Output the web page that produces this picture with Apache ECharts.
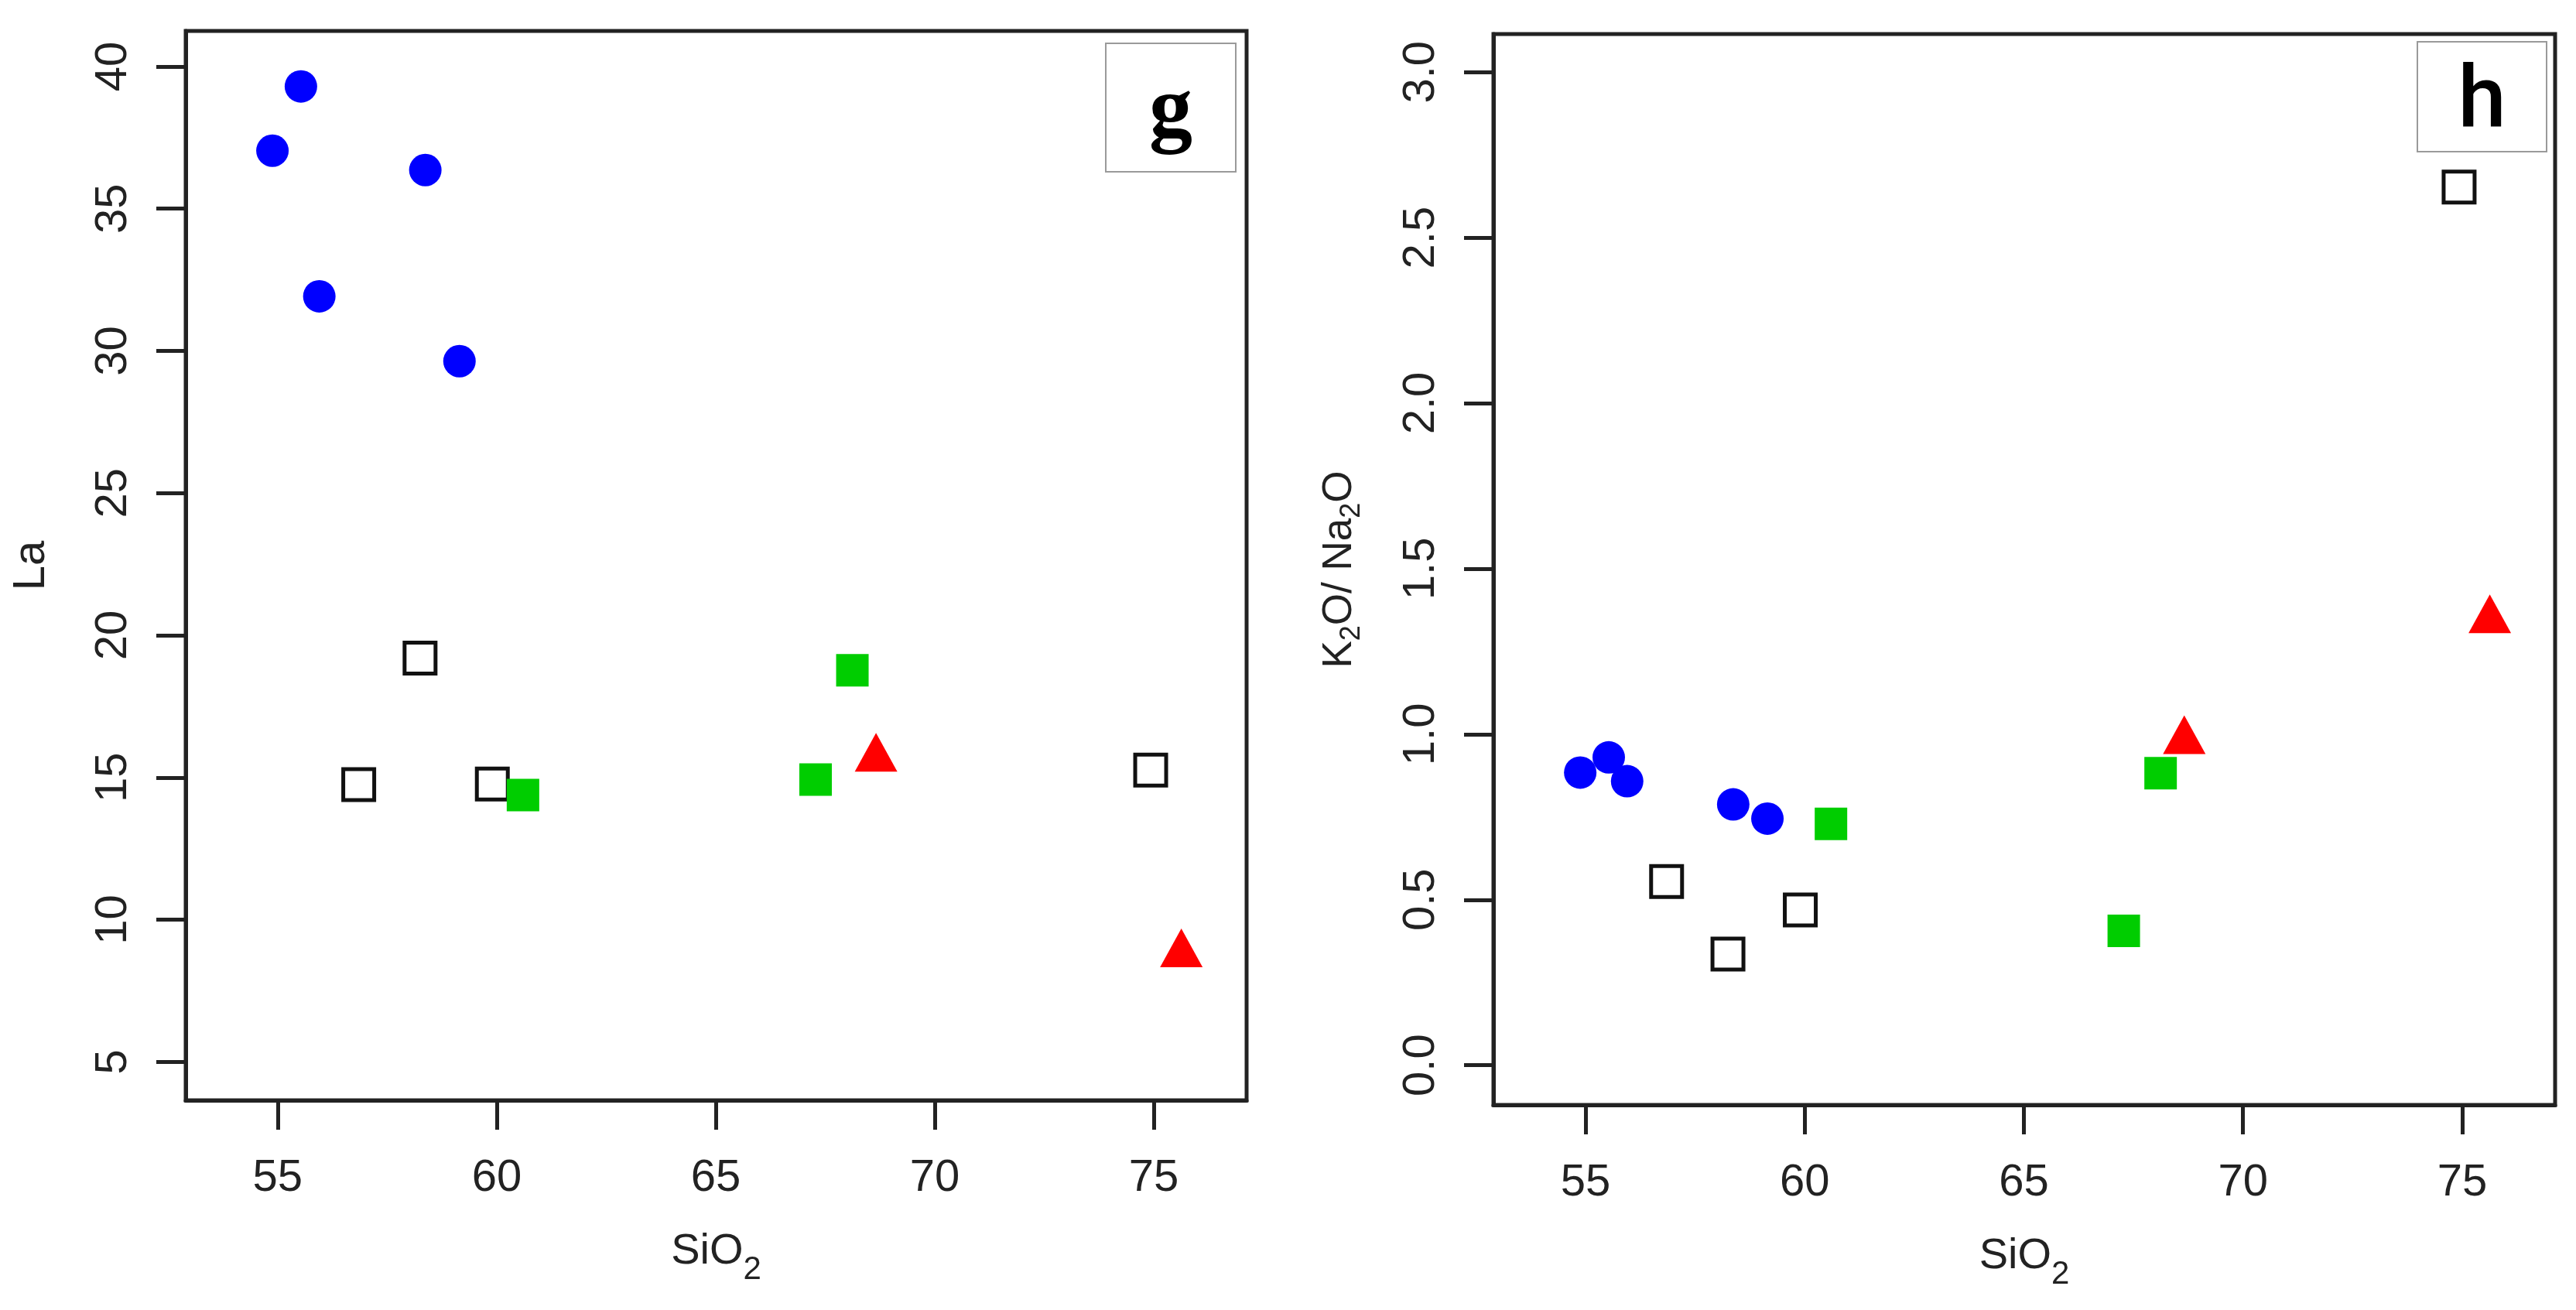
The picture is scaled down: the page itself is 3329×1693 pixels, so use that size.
<!DOCTYPE html>
<html>
<head>
<meta charset="utf-8">
<title>La and K2O/Na2O vs SiO2</title>
<script src="https://cdn.jsdelivr.net/npm/echarts@6/dist/echarts.min.js"></script>
<style>
	html, body { margin: 0; padding: 0; background: #fff; }
	#chart { width: 3329px; height: 1693px; }
</style>
</head>
<body>
<div id="chart"></div>
<script>
// SiO2 of each sample, one list per group
var sio2Circle = [54.88, 55.53, 55.95, 58.37, 59.15];
var sio2OpenSquare = [56.85, 58.25, 59.9, 74.93];
var sio2GreenSquare = [60.6, 67.28, 68.12];
var sio2Triangle = [68.66, 75.63];

// panel g : La
var laCircle = [37.04, 39.3, 31.92, 36.36, 29.64];
var laOpenSquare = [14.75, 19.2, 14.77, 15.26];
var laGreenSquare = [14.38, 14.93, 18.77];
var laTriangle = [15.67, 8.79];

// panel h : K2O/Na2O
var ratioCircle = [0.884, 0.93, 0.858, 0.788, 0.745];
var ratioOpenSquare = [0.555, 0.336, 0.469, 2.653];
var ratioGreenSquare = [0.729, 0.406, 0.882];
var ratioTriangle = [0.98, 1.345];

var xTicks = [55, 60, 65, 70, 75];
var laTicks = [5, 10, 15, 20, 25, 30, 35, 40];
var ratioTicks = [0, 0.5, 1, 1.5, 2, 2.5, 3];

var FONT = '"Liberation Sans", Arial, sans-serif';
var INK = '#222';

function pairs(xs, ys) {
	return xs.map(function (x, i) { return [x, ys[i]]; });
}

function xAxis(gridIndex) {
	return {
		type: 'value',
		gridIndex: gridIndex,
		min: 52.9,
		max: 77.12,
		name: '{a|SiO}{s|2}',
		nameLocation: 'middle',
		nameGap: 168,
		nameTextStyle: {
			rich: {
				a: { fontSize: 56, fontFamily: FONT, color: INK, verticalAlign: 'top', lineHeight: 56 },
				s: { fontSize: 42, fontFamily: FONT, color: INK, verticalAlign: 'top', lineHeight: 42, padding: [30, 0, 0, 0] }
			}
		},
		axisLine: { show: true, onZero: false, lineStyle: { color: INK, width: 5 } },
		axisTick: { show: true, length: 38, customValues: xTicks, lineStyle: { color: INK, width: 5 } },
		axisLabel: { customValues: xTicks, margin: 72, fontSize: 58, fontFamily: FONT, color: INK },
		splitLine: { show: false }
	};
}

function yAxis(gridIndex, min, max, ticks, name, textStyle, nameGap, fmt) {
	return {
		type: 'value',
		gridIndex: gridIndex,
		min: min,
		max: max,
		name: name,
		nameLocation: 'middle',
		nameGap: nameGap,
		nameTextStyle: textStyle,
		axisLine: { show: true, onZero: false, lineStyle: { color: INK, width: 5 } },
		axisTick: { show: true, length: 38, customValues: ticks, lineStyle: { color: INK, width: 5 } },
		axisLabel: {
			customValues: ticks,
			rotate: 90,
			margin: 64,
			fontSize: 58,
			fontFamily: FONT,
			color: INK,
			formatter: fmt
		},
		splitLine: { show: false }
	};
}

function groupSeries(xIdx, circle, openSq, greenSq, tri) {
	var base = { type: 'scatter', xAxisIndex: xIdx, yAxisIndex: xIdx, silent: true };
	return [
		Object.assign({}, base, {
			name: 'circle', symbol: 'circle', symbolSize: 42,
			itemStyle: { color: '#0000ff', opacity: 1 },
			data: pairs(sio2Circle, circle)
		}),
		Object.assign({}, base, {
			name: 'open square', symbol: 'rect', symbolSize: 40,
			itemStyle: { color: 'rgba(0,0,0,0)', borderColor: '#111', borderWidth: 5, opacity: 1 },
			data: pairs(sio2OpenSquare, openSq)
		}),
		Object.assign({}, base, {
			name: 'green square', symbol: 'rect', symbolSize: 42,
			itemStyle: { color: '#00cd00', opacity: 1 },
			data: pairs(sio2GreenSquare, greenSq)
		}),
		Object.assign({}, base, {
			// R draws the point at the triangle centroid
			name: 'triangle', symbol: 'triangle', symbolSize: [55, 50], symbolOffset: [0, -8],
			itemStyle: { color: '#ff0000', opacity: 1 },
			data: pairs(sio2Triangle, tri)
		})
	];
}

function panelTag(x, y, w, h, letter, font, textY) {
	return [
		{
			type: 'rect', z: 10,
			shape: { x: x, y: y, width: w, height: h },
			style: { fill: '#fff', stroke: '#9a9a9a', lineWidth: 2 }
		},
		{
			type: 'text', z: 11, x: x + w / 2, y: textY,
			style: { text: letter, font: font, fill: '#000', align: 'center', verticalAlign: 'middle' }
		}
	];
}

var chart = echarts.init(document.getElementById('chart'));

var option = {
	animation: false,
	backgroundColor: '#fff',
	grid: [
		{ left: 240, top: 40, width: 1371, height: 1382, show: true, borderColor: INK, borderWidth: 5 },
		{ left: 1930, top: 44, width: 1372, height: 1384, show: true, borderColor: INK, borderWidth: 5 }
	],
	xAxis: [xAxis(0), xAxis(1)],
	yAxis: [
		yAxis(0, 3.65, 41.25, laTicks, 'La', { fontSize: 58, fontFamily: FONT, color: INK }, 170, null),
		yAxis(1, -0.12, 3.115, ratioTicks, '{a|K}{s|2}{a|O/ Na}{s|2}{a|O}', {
			rich: {
				a: { fontSize: 53, fontFamily: FONT, color: INK, verticalAlign: 'top', lineHeight: 53 },
				s: { fontSize: 36, fontFamily: FONT, color: INK, verticalAlign: 'top', lineHeight: 36, padding: [24, 0, 0, 0] }
			}
		}, 172, function (v) { return v.toFixed(1); })
	],
	series: groupSeries(0, laCircle, laOpenSquare, laGreenSquare, laTriangle)
		.concat(groupSeries(1, ratioCircle, ratioOpenSquare, ratioGreenSquare, ratioTriangle)),
	graphic: panelTag(1429, 56, 168, 166, 'g', 'bold 112px "Liberation Serif", serif', 146)
		.concat(panelTag(3124, 54, 167, 142, 'h', '500 112px Roboto, sans-serif', 136))
};

chart.setOption(option);
</script>
</body>
</html>
